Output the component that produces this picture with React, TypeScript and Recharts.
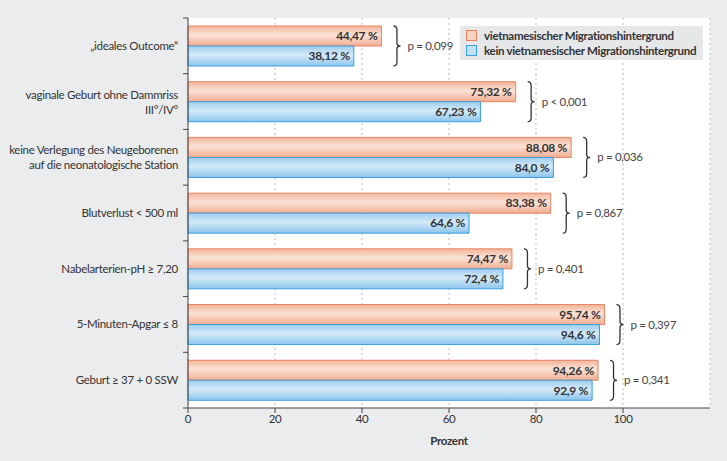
import { BarChart, Bar, CartesianGrid, XAxis, YAxis, LabelList } from 'recharts';

const categories = [
    '„ideales Outcome“',
    'vaginale Geburt ohne Dammriss\nIII°/IV°',
    'keine Verlegung des Neugeborenen\nauf die neonatologische Station',
    'Blutverlust < 500 ml',
    'Nabelarterien-pH ≥ 7,20',
    '5-Minuten-Apgar ≤ 8',
    'Geburt ≥ 37 + 0 SSW',
];
const vietValues = [44.47, 75.32, 88.08, 83.38, 74.47, 95.74, 94.26];
const keinValues = [38.12, 67.23, 84.0, 64.6, 72.4, 94.6, 92.9];
const vietLabels = ['44,47 %', '75,32 %', '88,08 %', '83,38 %', '74,47 %', '95,74 %', '94,26 %'];
const keinLabels = ['38,12 %', '67,23 %', '84,0 %', '64,6 %', '72,4 %', '94,6 %', '92,9 %'];
const pValues = ['p = 0,099', 'p < 0,001', 'p = 0,036', 'p = 0,867', 'p = 0,401', 'p = 0,397', 'p = 0,341'];
const xTicks = [0, 20, 40, 60, 80, 100];

const data = categories.map((name, i) => ({
    name,
    viet: vietValues[i],
    kein: keinValues[i],
    vietLabel: vietLabels[i],
    keinLabel: keinLabels[i],
}));

const W = 727;
const H = 461;
const M = { top: 18, right: 17, bottom: 0, left: 0 };
const Y_W = 188;
const X_H = 53;
const BAND = (H - M.top - M.bottom - X_H) / categories.length;
const FONT = 'Lato, "Noto Sans", sans-serif';
const FS = 11.5;

function CategoryTick(props: any) {
    const { y, payload, index } = props;
    const lines = String(payload.value).split('\n');
    const ax = Y_W;
    return (
        <g>
            <line x1={ax - 5} x2={ax} y1={y - BAND / 2} y2={y - BAND / 2} stroke="#444" strokeWidth={1} />
            {index === categories.length - 1 && (
                <line x1={ax - 5} x2={ax} y1={y + BAND / 2} y2={y + BAND / 2} stroke="#444" strokeWidth={1} />
            )}
            <text x={ax - 10} y={y} textAnchor="end" fontSize={FS} fill="#333">
                {lines.map((l, i) => (
                    <tspan key={i} x={ax - 10} dy={i === 0 ? (lines.length === 1 ? 4 : -3) : 15}>
                        {l}
                    </tspan>
                ))}
            </text>
        </g>
    );
}

function Brace(props: any) {
    const { x, y, width, height, index } = props;
    const v = vietValues[index];
    const k = keinValues[index];
    const end = x + (width * Math.max(v, k)) / v;
    const x0 = end + 12;
    const top = y;
    const bot = y + height * 2;
    const mid = (top + bot) / 2;
    const c = x0 + 3.5;
    const d = `M ${x0} ${top} Q ${c} ${top} ${c} ${top + 4} L ${c} ${mid - 3} Q ${c} ${mid} ${x0 + 7} ${mid} Q ${c} ${mid} ${c} ${mid + 3} L ${c} ${bot - 4} Q ${c} ${bot} ${x0} ${bot}`;
    return (
        <g>
            <path d={d} fill="none" stroke="#333" strokeWidth={1.3} />
            <text x={x0 + 14} y={mid + 4} fontSize={FS} fill="#444">
                {pValues[index]}
            </text>
        </g>
    );
}

const legendItems = [
    { label: 'vietnamesischer Migrationshintergrund', fill: '#f8d3c3', stroke: '#e8835f' },
    { label: 'kein vietnamesischer Migrationshintergrund', fill: '#bfe0f6', stroke: '#3a9fdc' },
];

export default function App() {
    return (
        <div
            style={{
                position: 'fixed',
                left: 0,
                top: 0,
                width: W,
                height: H,
                background: '#ebecee',
                fontFamily: FONT,
                letterSpacing: '-0.3px',
            }}
        >
            <BarChart
                width={W}
                height={H}
                data={data}
                layout="vertical"
                margin={M}
                barCategoryGap={8}
                barGap={0}
            >
                <defs>
                    <linearGradient id="gOrange" x1="0" y1="0" x2="0" y2="1">
                        <stop offset="0%" stopColor="#f2b59b" />
                        <stop offset="45%" stopColor="#fbe2d6" />
                        <stop offset="100%" stopColor="#f0ad92" />
                    </linearGradient>
                    <linearGradient id="gBlue" x1="0" y1="0" x2="0" y2="1">
                        <stop offset="0%" stopColor="#9fcdef" />
                        <stop offset="45%" stopColor="#d4eaf9" />
                        <stop offset="100%" stopColor="#8cc5ec" />
                    </linearGradient>
                </defs>
                <CartesianGrid horizontal={false} fill="#ffffff" stroke="#b9bcc0" strokeDasharray="2 3" />
                <XAxis
                    type="number"
                    domain={[0, 120]}
                    ticks={xTicks}
                    height={X_H}
                    stroke="#444"
                    tickSize={5}
                    tick={{ fill: '#333', fontSize: FS }}
                    label={{ value: 'Prozent', position: 'insideBottom', offset: 16, fontSize: FS, fontWeight: 700, fill: '#333' }}
                />
                <YAxis
                    type="category"
                    dataKey="name"
                    width={Y_W}
                    stroke="#444"
                    tickLine={false}
                    tick={<CategoryTick />}
                    interval={0}
                />
                <Bar dataKey="viet" fill="url(#gOrange)" stroke="#e8835f" strokeWidth={1} isAnimationActive={false}>
                    <LabelList dataKey="vietLabel" position="insideRight" offset={4} fontSize={FS + 0.5} fontWeight={700} fill="#333" />
                    <LabelList dataKey="viet" content={<Brace />} />
                </Bar>
                <Bar dataKey="kein" fill="url(#gBlue)" stroke="#3a9fdc" strokeWidth={1} isAnimationActive={false}>
                    <LabelList dataKey="keinLabel" position="insideRight" offset={4} fontSize={FS + 0.5} fontWeight={700} fill="#333" />
                </Bar>
            </BarChart>
            <div
                style={{
                    position: 'absolute',
                    left: 460,
                    top: 26,
                    width: 243,
                    height: 34,
                    background: '#e6e7e9',
                    fontSize: FS,
                    fontWeight: 700,
                    color: '#333',
                    padding: '2px 0 0 6px',
                    boxSizing: 'border-box',
                    whiteSpace: 'nowrap',
                }}
            >
                {legendItems.map((it) => (
                    <div key={it.label} style={{ display: 'flex', alignItems: 'center', height: 15 }}>
                        <span
                            style={{
                                display: 'inline-block',
                                flexShrink: 0,
                                width: 9,
                                height: 9,
                                background: it.fill,
                                border: `1px solid ${it.stroke}`,
                                marginRight: 7,
                            }}
                        />
                        {it.label}
                    </div>
                ))}
            </div>
        </div>
    );
}
